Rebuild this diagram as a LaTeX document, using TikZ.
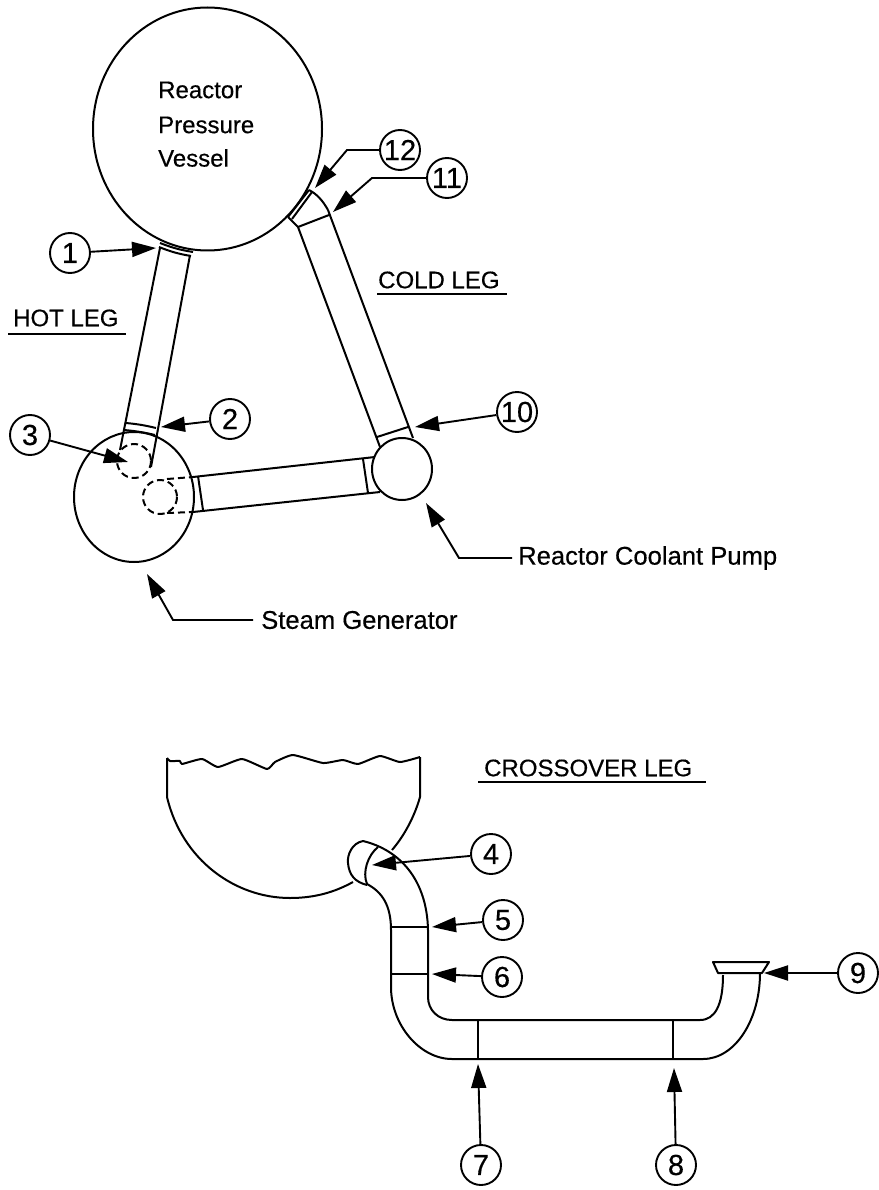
\documentclass[tikz,border=0pt]{standalone}
\usepackage{fontspec}
\setmainfont{Liberation Sans}
\newfontfamily\heavyfont[FakeBold=0.4]{Liberation Sans}
\usetikzlibrary{arrows.meta}
\tikzset{
  pipe/.style={line width=2pt, line join=round},
  hidden/.style={pipe, dash pattern=on 7pt off 4pt},
  num/.style={draw, circle, line width=1.9pt, minimum size=40pt, inner sep=0pt, font=\heavyfont\fontsize{29}{29}\selectfont},
  lead/.style={line width=1.9pt, -{Triangle[length=24pt,width=15pt]}},
  lbl/.style={anchor=west, inner sep=0pt, font=\heavyfont\fontsize{24}{24}\selectfont},
  lblb/.style={anchor=west, inner sep=0pt, font=\heavyfont\fontsize{25.6}{26}\selectfont},
}
\begin{document}
\begin{tikzpicture}[x=1pt,y=-1pt]
\useasboundingbox (0,0) rectangle (878,1190);
\draw[pipe] (207.5,129) ellipse (114.5 and 121.5);
\draw[pipe] (134,497) ellipse (60 and 65);
\draw[pipe] (402,469) ellipse (30 and 31);
\draw[pipe] (160,248) -- (120,450);
\draw[pipe] (190,255) -- (151,467);
\draw[pipe] (160,243) to[bend right=6] (193,252);
\draw[pipe] (159,247) to[bend right=6] (191,256);
\draw[pipe] (126,423) to[bend left=4] (156,428);
\draw[pipe] (124,430) to[bend left=4] (155,435);
\draw[hidden] (134,461) circle (17);
\draw[hidden] (160,497) circle (17);
\draw[hidden] (167,479) -- (193,477);
\draw[hidden] (167,513) -- (193,512);
\draw[pipe] (193,477) -- (375,457);
\draw[pipe] (193,512) -- (380,492);
\draw[pipe] (198,476) -- (203,510);
\draw[pipe] (363,459) -- (368,493);
\draw[pipe] (298,227) -- (380,447);
\draw[pipe] (328,210) -- (413,438);
\draw[pipe] (377,437) -- (408,427);
\draw[pipe] (298,227) -- (329,215);
\draw[pipe] (288,217) -- (298,227);
\draw[pipe] (328,210) .. controls (323,201) and (317,194) .. (309,190);
\draw[pipe] (288,217) -- (309,190);
\draw[pipe] (292,219) -- (312,192);
\draw[pipe] plot[smooth, tension=0.3] coordinates {(167,758) (170,761) (180,761) (182,764) (202,759) (218,767) (242,759) (267,769) (275,762) (293,755) (323,763) (343,760) (358,764) (380,756) (400,762) (420,757)};
\draw[pipe] (167,758) -- (167,797) .. controls (182,860) and (235,898) .. (290,898) .. controls (315,898) and (335,892) .. (353,882);
\draw[pipe] (420,757) -- (420,797) .. controls (415,815) and (405,835) .. (392,850);
\draw[pipe] (363,841) .. controls (400,850) and (427,880) .. (428,930) -- (428,997) .. controls (428,1010) and (438,1020) .. (452,1020) -- (700,1020) .. controls (715,1020) and (723,1005) .. (723,975);
\draw[pipe] (367,884) .. controls (382,892) and (391,905) .. (391,930) -- (391,987) .. controls (391,1025) and (420,1059) .. (452,1059) -- (703,1059) .. controls (735,1059) and (760,1020) .. (760,973);
\draw[pipe] (363,841) .. controls (352,843) and (347,855) .. (348,863) .. controls (349,875) and (355,882) .. (367,885);
\draw[pipe] (378,847) .. controls (368,855) and (362,872) .. (367,884);
\draw[pipe] (391,927) -- (428,927);
\draw[pipe] (391,974) -- (428,974);
\draw[pipe] (478,1020) -- (478,1059);
\draw[pipe] (673,1020) -- (673,1059);
\draw[pipe] (718,973) -- (713,962) -- (769,962) -- (762,973) -- cycle;
\node[lbl] (rpv1) at (158,90) {Reactor};
\node[lbl] (rpv2) at (158,125) {Pressure};
\node[lbl] (rpv3) at (158,158) {Vessel};
\node[lbl] (hotleg) at (13,318) {HOT LEG};
\draw[pipe] (8,334) -- (126,334);
\node[lbl] (coldleg) at (378,280) {COLD LEG};
\draw[pipe] (377,294) -- (507,294);
\node[lbl] (xleg) at (484,768) {CROSSOVER LEG};
\draw[pipe] (478,782) -- (706,782);
\node[lblb] (rcp) at (518,558) {Reactor Coolant Pump};
\node[lblb] (sg) at (261,620) {Steam Generator};
\node[num] (n1) at (70,253) {1};
\node[num] (n2) at (230,419) {2};
\node[num] (n3) at (30,435) {3};
\node[num] (n4) at (491,854) {4};
\node[num] (n5) at (503,920) {5};
\node[num] (n6) at (502,977) {6};
\node[num] (n7) at (481,1165) {7};
\node[num] (n8) at (676,1165) {8};
\node[num] (n9) at (858,973) {9};
\node[num] (n10) at (517,412) {10};
\node[num] (n11) at (447,178) {11};
\node[num] (n12) at (400,150) {12};
\coordinate (t1) at (156,248);
\coordinate (t2) at (161,427);
\coordinate (t3) at (128,462);
\coordinate (t4) at (372,865);
\coordinate (t5) at (432,927);
\coordinate (t6) at (432,974);
\coordinate (t7) at (478,1064);
\coordinate (t8) at (674,1068);
\coordinate (t9) at (764,973);
\coordinate (t10) at (415,427);
\coordinate (t11) at (333,212);
\coordinate (t12) at (315,188);
\coordinate (trcp) at (426,503);
\coordinate (tsg) at (147,574);
\draw[lead] (n1) -- (t1);
\draw[lead] (n2) -- (t2);
\draw[lead] (n3) -- (t3);
\draw[lead] (n4) -- (t4);
\draw[lead] (n5) -- (t5);
\draw[lead] (n6) -- (t6);
\draw[lead] (n7) -- (t7);
\draw[lead] (n8) -- (t8);
\draw[lead] (n9) -- (t9);
\draw[lead] (n10) -- (t10);
\draw[lead] (n11) -- (372,178) -- (t11);
\draw[lead] (n12) -- (347,150) -- (t12);
\draw[lead] (rcp.west) ++(-6,0) -- (459,558) -- (trcp);
\draw[lead] (sg.west) ++(-8,0) -- (173,620) -- (tsg);
\end{tikzpicture}
\end{document}
